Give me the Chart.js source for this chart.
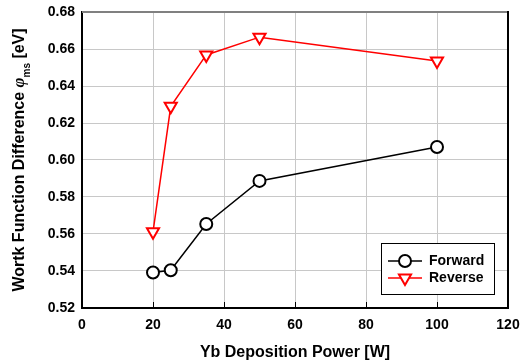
<!DOCTYPE html>
<html>

<head>
    <title>Work function difference</title>
    <script src="https://cdn.jsdelivr.net/npm/chart.js@4.4.0/dist/chart.umd.min.js"></script>
    <style>
        body { margin: 0; background: #fff; }
    </style>
    <script>
        var power = [20, 25, 35, 50, 100];
        var forward = [0.5392, 0.5404, 0.5654, 0.5887, 0.6070];
        var reverse = [0.5612, 0.6290, 0.6568, 0.6664, 0.6535];
        var seriesNames = ["Forward", "Reverse"];
        var xTitle = "Yb Deposition Power [W]";

        function toPoints(ys) {
            return power.map((x, i) => ({ x: x, y: ys[i] }));
        }

        // frame, inward x ticks, y title with subscript, legend box
        var extras = {
            id: 'extras',
            afterDraw: function (chart) {
                var ctx = chart.ctx;
                var a = chart.chartArea;
                var xs = chart.scales.x;
                ctx.save();
                // top + right border
                ctx.lineWidth = 2;
                ctx.strokeStyle = '#808080';
                ctx.beginPath(); ctx.moveTo(a.left, a.top); ctx.lineTo(a.right, a.top); ctx.stroke();
                ctx.strokeStyle = '#000';
                ctx.beginPath(); ctx.moveTo(a.right, a.top - 1); ctx.lineTo(a.right, a.bottom); ctx.stroke();
                // inward ticks on x axis
                ctx.lineWidth = 1;
                for (var v = 20; v < 120; v += 20) {
                    var px = Math.round(xs.getPixelForValue(v)) + 0.5;
                    ctx.beginPath(); ctx.moveTo(px, a.bottom); ctx.lineTo(px, a.bottom - 6); ctx.stroke();
                }

                // y title
                ctx.fillStyle = '#000';
                ctx.textBaseline = 'middle';
                var f1 = 'bold 16px "Liberation Sans", Arial, sans-serif';
                var fPhi = 'italic bold 17px "Liberation Serif", "Times New Roman", serif';
                var fSub = 'bold 10px "Liberation Sans", Arial, sans-serif';
                var p1 = 'Wortk Function Difference ', p2 = '\u03c6', p3 = 'ms', p4 = ' [eV]';
                ctx.font = f1; var w1 = ctx.measureText(p1).width, w4 = ctx.measureText(p4).width;
                ctx.font = fPhi; var w2 = ctx.measureText(p2).width;
                ctx.font = fSub; var w3 = ctx.measureText(p3).width;
                var total = w1 + w2 + w3 + w4;
                ctx.translate(20, (a.top + a.bottom) / 2);
                ctx.rotate(-Math.PI / 2);
                var cx = -total / 2;
                ctx.textAlign = 'left';
                ctx.font = f1; ctx.fillText(p1, cx, 0); cx += w1;
                ctx.font = fPhi; ctx.fillText(p2, cx, 0); cx += w2;
                ctx.font = fSub; ctx.fillText(p3, cx, 7); cx += w3;
                ctx.font = f1; ctx.fillText(p4, cx, 0);
                ctx.setTransform(1, 0, 0, 1, 0, 0);

                // legend
                var bx = 381, by = 243, bw = 113, bh = 51;
                ctx.fillStyle = '#fff';
                ctx.fillRect(bx, by, bw, bh);
                ctx.strokeStyle = '#000';
                ctx.lineWidth = 1;
                ctx.strokeRect(bx + 0.5, by + 0.5, bw, bh);
                ctx.font = 'bold 14px "Liberation Sans", Arial, sans-serif';
                ctx.textAlign = 'left';
                ctx.textBaseline = 'middle';
                chart.data.datasets.forEach(function (ds, i) {
                    var ly = 261 + i * 17;
                    ctx.strokeStyle = ds.borderColor;
                    ctx.lineWidth = 1.5;
                    ctx.beginPath(); ctx.moveTo(388, ly); ctx.lineTo(422, ly); ctx.stroke();
                    ctx.lineWidth = 2;
                    ctx.fillStyle = '#fff';
                    ctx.beginPath();
                    if (ds.pointStyle === 'circle') {
                        ctx.arc(405, ly, 6, 0, Math.PI * 2);
                    } else {
                        var r = 7;
                        ctx.moveTo(405, ly + r);
                        ctx.lineTo(405 - r * 0.866, ly - r / 2);
                        ctx.lineTo(405 + r * 0.866, ly - r / 2);
                        ctx.closePath();
                    }
                    ctx.fill(); ctx.stroke();
                    ctx.fillStyle = '#000';
                    ctx.fillText(ds.label, 429, ly);
                });
                ctx.restore();
            }
        };

        window.addEventListener('load', (event) => {
            new Chart(document.getElementById('chart').getContext('2d'), {
                type: 'line',
                data: {
                    datasets: [{
                        label: seriesNames[0],
                        data: toPoints(forward),
                        borderColor: "#000000",
                        backgroundColor: "#ffffff",
                        borderWidth: 1.5,
                        pointStyle: 'circle',
                        pointRadius: 6,
                        pointBorderWidth: 2,
                        fill: false,
                        clip: false
                    }, {
                        label: seriesNames[1],
                        data: toPoints(reverse),
                        borderColor: "#ff0000",
                        backgroundColor: "#ffffff",
                        borderWidth: 1.5,
                        pointStyle: 'triangle',
                        pointRotation: 180,
                        pointRadius: 7,
                        pointBorderWidth: 2,
                        fill: false,
                        clip: false
                    }]
                },
                options: {
                    responsive: false,
                    animation: false,
                    devicePixelRatio: 1,
                    layout: { padding: { top: 12, right: 12, left: 0, bottom: 0 } },
                    plugins: {
                        legend: { display: false },
                        tooltip: { enabled: false }
                    },
                    scales: {
                        x: {
                            type: 'linear',
                            min: 0, max: 120,
                            afterFit: function (s) { s.height = 56; s.paddingLeft = 0; s.paddingRight = 0; },
                            ticks: {
                                stepSize: 20,
                                color: '#000',
                                padding: 9,
                                maxRotation: 0,
                                font: { family: '"Liberation Sans", Arial, sans-serif', size: 14, weight: 'bold' }
                            },
                            grid: { color: '#c8c8c8', lineWidth: 1, drawTicks: false },
                            border: { color: '#000', width: 2 },
                            title: {
                                display: true,
                                text: xTitle,
                                color: '#000',
                                padding: { top: 0, bottom: 2 },
                                font: { family: '"Liberation Sans", Arial, sans-serif', size: 16, weight: 'bold' }
                            }
                        },
                        y: {
                            min: 0.52, max: 0.68,
                            afterFit: function (s) { s.width = 82; s.paddingTop = 0; s.paddingBottom = 0; },
                            ticks: {
                                stepSize: 0.02,
                                color: '#000',
                                padding: 7,
                                callback: (v) => v.toFixed(2),
                                font: { family: '"Liberation Sans", Arial, sans-serif', size: 14, weight: 'bold' }
                            },
                            grid: { color: '#c8c8c8', lineWidth: 1, drawTicks: false },
                            border: { color: '#000', width: 2 }
                        }
                    }
                },
                plugins: [extras]
            });
        });
    </script>
</head>

<body>
    <canvas id="chart" width="520" height="364"></canvas>
</body>

</html>
